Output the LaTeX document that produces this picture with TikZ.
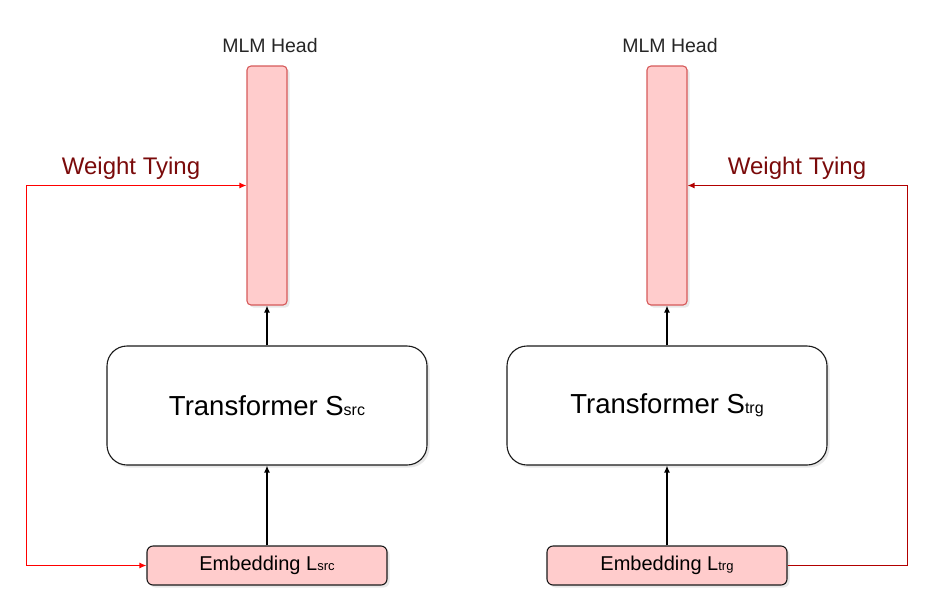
\documentclass[tikz,border=0pt]{standalone}
\usepackage{fontspec}
\setmainfont{Liberation Sans}
\usetikzlibrary{arrows.meta}
\usetikzlibrary{shadows}
\definecolor{boxpink}{HTML}{FFCCCC}
\definecolor{headline}{HTML}{D65A5A}
\definecolor{boxline}{HTML}{1A1A1A}
\definecolor{tiered}{HTML}{FF0000}
\definecolor{tiedark}{HTML}{B20000}
\definecolor{tietext}{HTML}{7A0A0A}
\tikzset{
softshadow/.style={drop shadow={opacity=0.18, shadow xshift=2.5pt, shadow yshift=-2.5pt}},
headbox/.style={draw=headline, line width=1.1pt, fill=boxpink, rounded corners=4pt, minimum width=40pt, minimum height=239pt, inner sep=0pt, softshadow},
transbox/.style={draw=boxline, line width=1.1pt, fill=white, rounded corners=20pt, minimum width=320pt, minimum height=119pt, inner sep=0pt, softshadow, font=\fontsize{27.5}{32}\selectfont},
embbox/.style={draw=boxline, line width=1.1pt, fill=boxpink, rounded corners=6pt, minimum width=240pt, minimum height=39pt, inner sep=0pt, softshadow, font=\fontsize{20}{24}\selectfont},
headlabel/.style={font=\fontsize{19.5}{23}\selectfont, text=black!85},
tielabel/.style={font=\fontsize{24}{28}\selectfont, text=tietext},
flow/.style={draw=black, line width=1.2pt, -{Latex[length=7pt,width=6pt]}}
}
\begin{document}
\begin{tikzpicture}[x=1pt,y=-1pt]
    \useasboundingbox (0,0) rectangle (925,592);

                \node[headbox] (headS) at (267,185.5) {};
                \node[headbox] (headT) at (667,185.5) {};
                \node[transbox] (transS) at (267,405.5) {Transformer S{\fontsize{16}{18}\selectfont src}};
                \node[transbox] (transT) at (667,405.5) {Transformer S{\fontsize{16}{18}\selectfont trg}};
                \node[embbox] (embS) at (267,565.5) {Embedding L{\fontsize{13}{15}\selectfont src}};
                \node[embbox] (embT) at (667,565.5) {Embedding L{\fontsize{13}{15}\selectfont trg}};

                \node[headlabel] (mlmS) at (270,46) {MLM Head};
                \node[headlabel] (mlmT) at (670,46) {MLM Head};
                \node[tielabel] (tieS) at (131,168) {Weight Tying};
                \node[tielabel] (tieT) at (797,168) {Weight Tying};

                \draw[flow] (embS) -- (transS);
                \draw[flow] (transS) -- (headS);
                \draw[flow] (embT) -- (transT);
                \draw[flow] (transT) -- (headT);

                \draw[tiered, line width=1.2pt, {Latex[length=7pt,width=6pt]}-{Latex[length=7pt,width=6pt]}] (embS.west) -- ++(-120,0) |- (headS.west);
                \draw[tiedark, line width=1.2pt, -{Latex[length=7pt,width=6pt]}] (embT.east) -- ++(120,0) |- (headT.east);

            \end{tikzpicture}
\end{document}
